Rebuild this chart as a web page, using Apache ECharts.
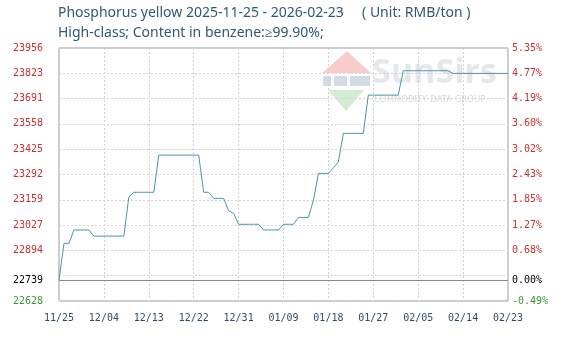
<!DOCTYPE html>
<html><head><meta charset="utf-8">
<script src="https://cdn.jsdelivr.net/npm/echarts@6/dist/echarts.min.js"></script>
<style>html,body{margin:0;padding:0;background:#fff}#c{width:571px;height:346px}</style>
</head><body><div id="c"></div>
<script>
var startDate = '2025-11-25';
var dayCount = 91;
var prices = [
 22739,22931,22931,23001,23001,23001,23001,22969,22969,22969,
 22969,22969,22969,22969,23175,23199,23199,23199,23199,23199,
 23394,23394,23394,23394,23394,23394,23394,23394,23394,23199,
 23199,23167,23167,23167,23102,23088,23031,23031,23031,23031,
 23031,23001,23001,23001,23001,23031,23031,23031,23067,23067,
 23067,23158,23298,23298,23298,23328,23359,23508,23508,23508,
 23508,23508,23709,23709,23709,23709,23709,23709,23709,23837,
 23837,23837,23837,23837,23837,23837,23837,23837,23837,23823,
 23823,23823,23823,23823,23823,23823,23823,23823,23823,23823,
 23823
];
var basePrice = 22739;
var yMin = 22628.28, yStep = 132.8, ySteps = 10;
var titleLine1 = 'Phosphorus yellow 2025-11-25 - 2026-02-23     ( Unit: RMB/ton )';
var titleLine2 = 'High-class; Content in benzene:\u226599.90%;';

var dates = [];
(function(){
  var p = startDate.split('-');
  var t = Date.UTC(+p[0], +p[1]-1, +p[2]);
  for (var i = 0; i < dayCount; i++) {
    var d = new Date(t + i*86400000);
    var mm = ('0'+(d.getUTCMonth()+1)).slice(-2), dd = ('0'+d.getUTCDate()).slice(-2);
    dates.push(mm+'/'+dd);
  }
})();
var yMax = yMin + yStep*ySteps;

var labelFont = 'DejaVu Sans Mono';
function isHidden(v){ return Math.abs(v - (yMin + yStep)) < 1; }
function isMin(v){ return Math.abs(v - yMin) < 1; }

var chart = echarts.init(document.getElementById('c'), null, {renderer:'canvas'});
chart.setOption({
  animation:false,
  backgroundColor:'#fff',
  title:[
    {text:titleLine1, left:58, top:6, padding:0, textStyle:{fontFamily:'Noto Sans', fontSize:14, fontWeight:'normal', color:'#2f5876'}},
    {text:titleLine2, left:58, top:26, padding:0, textStyle:{fontFamily:'Noto Sans', fontSize:14, fontWeight:'normal', color:'#2f5876'}}
  ],
  graphic:[{
    type:'group', z:-1, silent:true,
    children:[
      {type:'polygon', shape:{points:[[322,73],[347,51],[371,73]]}, style:{fill:'rgba(238,120,120,0.38)'}},
      {type:'rect', shape:{x:323,y:76,width:8,height:10}, style:{fill:'rgba(150,165,190,0.4)'}},
      {type:'rect', shape:{x:334,y:76,width:13,height:10}, style:{fill:'rgba(150,165,190,0.4)'}},
      {type:'rect', shape:{x:350,y:76,width:20,height:10}, style:{fill:'rgba(150,165,190,0.4)'}},
      {type:'polygon', shape:{points:[[328,90],[364,90],[346,111]]}, style:{fill:'rgba(130,200,130,0.35)'}},
      {type:'text', x:372, y:73, style:{text:'SunSirs', font:'bold 34px "Open Sans"', fill:'rgba(195,203,215,0.45)', textVerticalAlign:'middle'}},
      {type:'text', x:374, y:100, style:{text:'COMMODITY DATA GROUP', font:'8.5px "DejaVu Sans"', fill:'rgba(175,180,185,0.5)', textVerticalAlign:'middle'}}
    ]
  }],
  grid:{left:59, right:63, top:48, bottom:45, show:true, borderColor:'#999', borderWidth:1},
  xAxis:{
    type:'category', data:dates, boundaryGap:false,
    axisLine:{show:false}, axisTick:{show:false},
    axisLabel:{interval:8, color:'#2e4d6b', fontFamily:labelFont, fontSize:10, margin:12, showMaxLabel:true},
    splitLine:{show:true, interval:8, lineStyle:{color:'#d2d2d2', type:[2,2], width:1}}
  },
  yAxis:[{
    type:'value', min:yMin, max:yMax, interval:yStep, position:'left',
    axisLine:{show:false}, axisTick:{show:false},
    axisLabel:{
      margin:16, fontFamily:labelFont, fontSize:10,
      formatter:function(v){ return isHidden(v) ? '' : String(Math.round(v)); },
      color:function(v){ return isMin(+v) ? '#3a9a3a' : '#c8302f'; }
    },
    splitLine:{show:true, lineStyle:{color:'#d2d2d2', type:[2,2], width:1}}
  },{
    type:'value', min:yMin, max:yMax, interval:yStep, position:'right',
    axisLine:{show:false}, axisTick:{show:false},
    axisLabel:{
      margin:4, fontFamily:labelFont, fontSize:10,
      formatter:function(v){ return isHidden(v) ? '' : ((v/basePrice-1)*100).toFixed(2)+'%'; },
      color:function(v){ return isMin(+v) ? '#3a9a3a' : '#c8302f'; }
    },
    splitLine:{show:false}
  }],
  series:[{
    type:'line', data:prices, yAxisIndex:0, symbol:'none', smooth:false,
    lineStyle:{color:'#4a93b2', width:1},
    markLine:{
      silent:true, symbol:'none', animation:false,
      lineStyle:{color:'#8a8a8a', type:'solid', width:1},
      data:[
        {yAxis:basePrice, label:{show:true, position:'start', distance:16, formatter:String(basePrice), color:'#000', fontFamily:labelFont, fontSize:10}},
        {yAxis:basePrice, label:{show:true, position:'end', distance:4, formatter:'0.00%', color:'#000', fontFamily:labelFont, fontSize:10}}
      ]
    }
  }]
});
</script></body></html>
